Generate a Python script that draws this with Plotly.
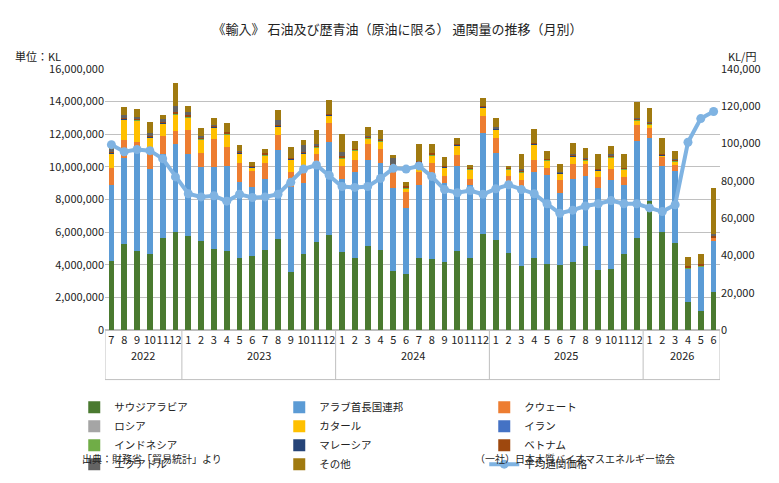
import plotly.graph_objects as go

years = ["2022", "2023", "2024", "2025", "2026"]
year_counts = [6, 12, 12, 12, 6]
months = [str(m) for m in range(7, 13)] + [str(m) for m in range(1, 13)]*3 + [str(m) for m in range(1, 7)]

saudi = [4.25,5.28,4.83,4.64,5.66,6.03, 5.76,5.43,4.95,4.83,4.39,4.54,4.89,5.55,3.57,4.64,5.41,5.80,
         4.79,4.44,5.16,4.91,3.63,3.44,4.44,4.35,4.15,4.87,4.39,5.89,
         5.50,4.70,3.90,4.39,4.06,3.96,4.15,5.18,3.67,3.77,4.64,5.66,
         7.92,6.03,5.31,1.74,1.16,2.32]
uae = [4.65,5.25,6.47,5.20,5.16,5.37, 5.02,4.57,5.05,5.22,4.69,4.25,4.35,5.50,5.22,4.35,4.83,5.70,
       4.49,5.22,5.27,5.33,5.07,4.06,4.45,5.12,4.84,5.18,4.50,6.19,
       5.36,4.42,4.89,5.27,5.45,4.45,5.09,4.29,5.06,5.41,4.25,5.93,
       3.87,4.02,4.45,2.03,2.74,3.13]
kuwait = [1.05,1.10,0.20,1.35,1.06,0.77, 1.49,0.86,1.70,1.15,1.16,0.97,1.00,0.93,0.87,0.67,0.58,1.16,
          0.77,0.77,0.97,0.83,0.96,0.94,0.77,0.77,0.48,0.67,0.39,1.06,
          0.93,0.35,0.39,0.77,0.44,0.77,0.94,0.71,0.64,0.71,0.48,0.97,
          0.58,0.58,0.33,0.03,0.02,0.19]
russia = [0.0]*48
qatar = [0.85,1.25,1.35,0.60,0.76,1.07, 0.77,0.84,0.70,0.80,0.58,0.19,0.48,0.48,0.77,1.16,0.38,0.48,
         0.48,0.58,0.35,0.49,0.40,0.26,0.58,0.48,0.48,0.58,0.57,0.48,
         0.48,0.38,0.48,0.93,0.45,0.39,0.45,0.22,0.39,0.70,0.48,0.29,
         0.23,0.05,0.25,0.0,0.0,0.0]
iran = [0.0]*48
indonesia = [0.03]*48
malaysia = [0.03]*48
vietnam = [0.05]*48
ecuador = [0.19,0.19,0.11,0.19,0.19,0.37, 0.19,0.09,0.05,0.0,0.05,0.0,0.0,0.28,0.0,0.39,0.09,0.0,
           0.28,0.0,0.02,0.03,0.35,0.0,0.0,0.0,0.0,0.0,0.0,0.0,
           0.08,0.0,0.08,0.0,0.0,0.02,0.08,0.03,0.0,0.08,0.0,0.03,
           0.05,0.0,0.03,0.0,0.0,0.14]
other = [0.20,0.51,0.47,0.67,0.24,1.43, 0.38,0.50,0.44,0.55,0.37,0.22,0.28,0.64,0.66,0.31,0.86,0.85,
         1.12,0.44,0.57,0.58,0.21,0.25,1.05,0.57,0.57,0.38,0.13,0.47,
         0.53,0.09,0.91,0.84,0.47,0.50,0.62,0.59,0.91,0.52,0.82,0.96,
         0.86,0.95,0.50,0.56,0.65,2.84]
price = [99.4,95.6,96.8,96.2,91.9,82.1, 73.1,71.4,72.0,69.1,72.8,71.1,71.4,72.8,79.2,86.3,88.5,83.0,
         77.0,76.5,77.0,81.3,86.7,86.3,88.0,82.4,75.3,73.6,74.8,72.8,
         75.7,77.9,75.3,73.1,67.7,62.6,64.3,66.5,67.7,69.4,67.7,67.7,
         65.5,63.5,67.2,100.7,113.4,117.2]

idx = list(range(len(months)))
series = [
    ("サウジアラビア", saudi, "#4a7a30"),
    ("アラブ首長国連邦", uae, "#5b9bd5"),
    ("クウェート", kuwait, "#ed7d31"),
    ("ロシア", russia, "#a5a5a5"),
    ("カタール", qatar, "#ffc000"),
    ("イラン", iran, "#4472c4"),
    ("インドネシア", indonesia, "#70ad47"),
    ("マレーシア", malaysia, "#264478"),
    ("ベトナム", vietnam, "#9e480e"),
    ("エクアドル", ecuador, "#636363"),
    ("その他", other, "#a07a10"),
]
fig = go.Figure()
for name, vals, col in series:
    fig.add_trace(go.Bar(x=idx, y=[v*1e6 for v in vals], name=name, marker_color=col, marker_line_width=0))
fig.add_trace(go.Scatter(x=idx, y=[p*1000 for p in price], name="平均通関価格", yaxis="y2",
                         mode="lines+markers", line=dict(color="#7fb3e2", width=4),
                         marker=dict(size=9, color="#7fb3e2")))

font = "Noto Sans CJK JP"
annotations = [
    dict(text="単位：KL", x=-0.15, y=1.09, xref="paper", yref="paper", xanchor="left", showarrow=False),
    dict(text="KL/円", xref="paper", yref="paper", x=1.01, y=1.09, xanchor="left", showarrow=False),
    dict(text="出典：財務省「貿易統計」より", xref="paper", yref="paper", x=-0.04, y=-0.53,
         xanchor="left", showarrow=False, font=dict(size=10)),
    dict(text="（一社）日本木質バイオマスエネルギー協会", xref="paper", yref="paper", x=0.93, y=-0.53,
         xanchor="right", showarrow=False, font=dict(size=10)),
]
shapes = []
start = 0
bounds = [-0.5]
for yr, n in zip(years, year_counts):
    annotations.append(dict(text=yr, x=start + n/2 - 0.5, xref="x", y=-0.135, yref="paper",
                            showarrow=False, font=dict(size=11)))
    start += n
    bounds.append(start - 0.5)
for b in bounds:
    shapes.append(dict(type="line", x0=b, x1=b, xref="x", y0=0, y1=-0.19, yref="paper",
                       line=dict(color="#bfbfbf", width=1)))
shapes.append(dict(type="line", x0=-0.5, x1=47.5, xref="x", y0=-0.19, y1=-0.19, yref="paper",
                   line=dict(color="#bfbfbf", width=1)))

fig.update_layout(
    width=779, height=483, barmode="stack", bargap=0.55,
    paper_bgcolor="white", plot_bgcolor="white",
    font=dict(family=font, size=11, color="#222"),
    margin=dict(l=97, r=67, t=61, b=146),
    title=dict(text="《輸入》 石油及び歴青油（原油に限る） 通関量の推移（月別）", x=0.5, y=0.965,
               xanchor="center", font=dict(size=13, family=font)),
    xaxis=dict(range=[-0.5, 47.5], tickmode="array", tickvals=idx, ticktext=months, tickangle=0,
               tickfont=dict(size=11), showline=True, linecolor="#bfbfbf", showgrid=False),
    yaxis=dict(range=[0, 16e6], dtick=2e6, tickformat=",", gridcolor="#c0c0c0", showline=False,
               zeroline=True, zerolinecolor="#bfbfbf"),
    yaxis2=dict(range=[0, 140000], dtick=20000, tickformat=",", overlaying="y", side="right",
                showgrid=False, zeroline=False),
    legend=dict(orientation="h", x=-0.05, y=-0.24, xanchor="left", yanchor="top",
                entrywidth=160, font=dict(size=10.5), traceorder="normal", tracegroupgap=0,
                itemwidth=30),
    annotations=annotations, shapes=shapes,
)
fig.write_html("out.html")
